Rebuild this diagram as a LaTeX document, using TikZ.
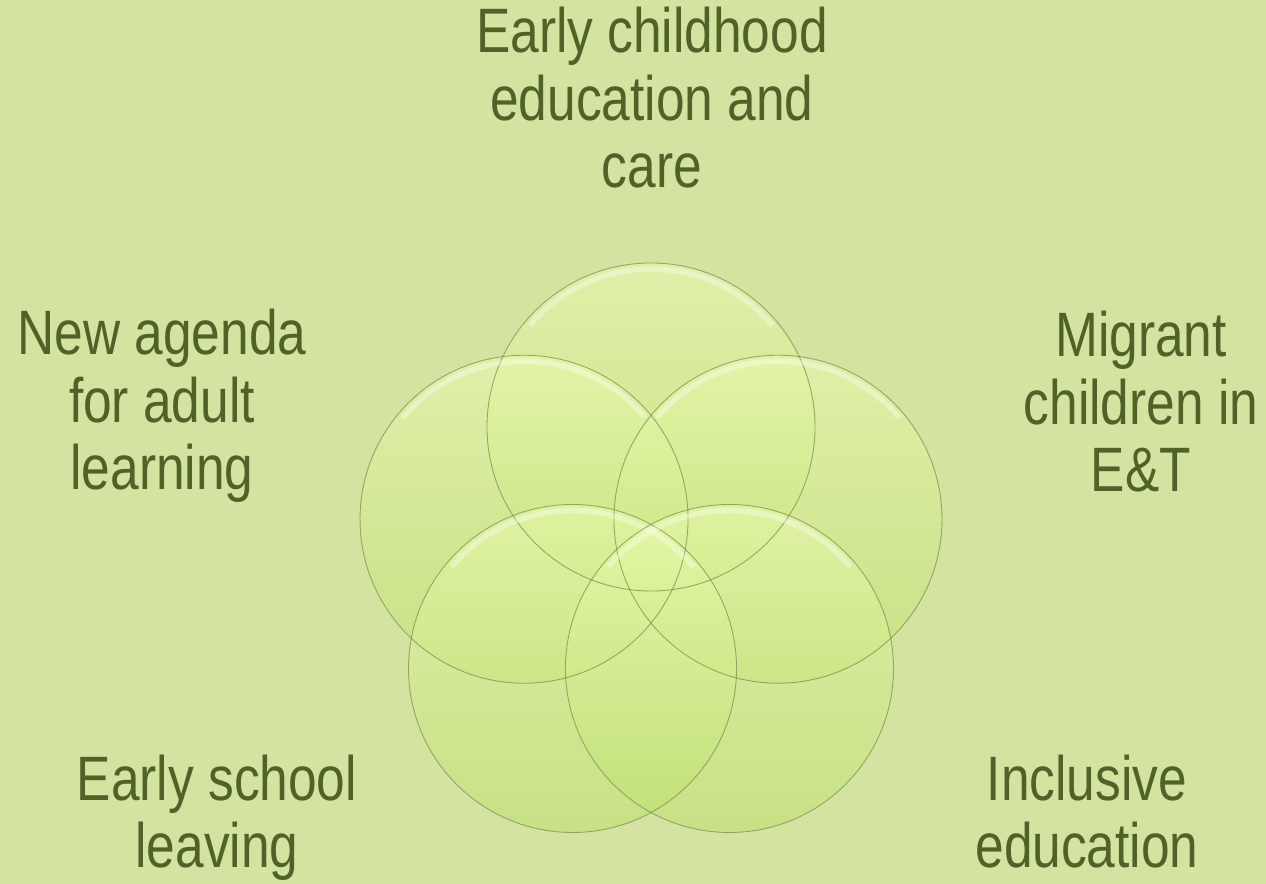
\documentclass[tikz,border=0pt]{standalone}
\usepackage{fontspec}
\newfontfamily\narrowsans{Liberation Sans}[FakeStretch=0.82]
\usepackage{tikz}
\usetikzlibrary{calc}
\definecolor{paper}{RGB}{212,227,160}
\definecolor{leaf}{RGB}{79,98,40}
\definecolor{bubbletop}{RGB}{236,252,178}
\definecolor{bubblebot}{RGB}{188,224,106}
\definecolor{rim}{RGB}{120,145,80}

\begin{document}
\begin{tikzpicture}[
		topic/.style={align=center, inner sep=0pt, anchor=base, text=leaf,
			font=\narrowsans\fontsize{35.7}{38.6}\selectfont},
		bubble/.style={top color=bubbletop, bottom color=bubblebot, fill opacity=0.5},
	]
		%%%%% START %%%%%
		
		\fill[paper] (0, 0) rectangle (25.32, 17.68);
		\useasboundingbox (0, 0) rectangle (25.32, 17.68);
		
		\coordinate (hub) at (13.02, 6.47);
		
		\foreach \a in {90, 162, 18, 234, 306} {
			\shade[bubble] ($(hub)+(\a:2.67)$) circle (3.28);
		}
		\foreach \a in {90, 162, 18, 234, 306} {
			\draw[white, opacity=0.35, line width=3pt] ($(hub)+(\a:2.67)+(140:3.16)$) arc (140:40:3.16);
			\draw[rim, opacity=0.75, line width=0.5pt] ($(hub)+(\a:2.67)$) circle (3.28);
		}
		
		% anchor=base sits on the last line
		\node[topic] (ecec) at (13.04, 13.92) {Early childhood\\education and\\care};
		\node[topic] (adult) at (3.24, 7.88) {New agenda\\for adult\\learning};
		\node[topic] (migrant) at (22.82, 7.84) {Migrant\\children in\\E\&T};
		\node[topic] (esl) at (4.34, 0.32) {Early school\\leaving};
		\node[topic] (incl) at (21.74, 0.32) {Inclusive\\education};
		
		%%%%% END %%%%%
	\end{tikzpicture}
\end{document}
